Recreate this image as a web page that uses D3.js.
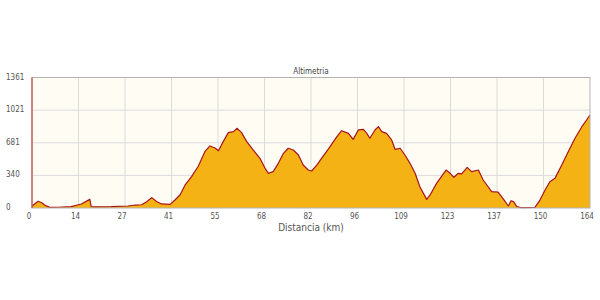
<!DOCTYPE html>
<html>
<head>
<meta charset="utf-8">
<script src="https://cdn.jsdelivr.net/npm/d3@7"></script>
<style>
  body { margin: 0; background: #fff; }
  text { font-family: "DejaVu Sans Condensed", "DejaVu Sans", sans-serif; fill: #555; }
</style>
</head>
<body>
<svg id="chart" width="600" height="300"></svg>
<script>
const width = 600;
const height = 300;

// profile: distance (km) and altitude (m)
const distance = [0, 1.8, 2.9, 3.7, 5.2, 7.6, 11.5, 14.5, 17.0, 17.4, 18.4, 23.3, 28.2, 30.3, 32.2, 33.7,
    35.2, 36.7, 38.1, 40.6, 42.0, 43.5, 45.0, 46.9, 48.9, 50.8, 52.3, 53.8, 54.8, 56.2, 57.7, 59.2,
    60.3, 61.6, 63.1, 65.0, 67.0, 68.5, 69.5, 70.9, 72.4, 73.9, 75.3, 76.8, 78.3, 79.7, 81.2, 82.2,
    83.7, 85.1, 87.6, 89.6, 91.0, 93.0, 94.4, 95.9, 97.4, 98.4, 99.3, 100.8, 101.8, 102.8, 104.2, 105.7,
    106.7, 108.2, 109.6, 111.1, 112.6, 114.0, 116.0, 117.0, 118.9, 121.7, 122.9, 124.0, 125.3, 126.3, 127.9, 129.2,
    131.2, 132.6, 135.1, 137.0, 138.5, 140.0, 140.8, 141.5, 142.5, 143.9, 147.8, 149.3, 150.8, 152.2, 153.7, 155.7,
    157.6, 159.6, 161.6, 163.0, 164.0];
const altitude = [20, 70, 55, 31, 7, 8, 14, 42, 90, 14, 12, 14, 21, 31, 34, 66,
    108, 66, 42, 38, 83, 136, 240, 327, 438, 587, 647, 626, 598, 692, 786, 797,
    831, 786, 692, 605, 518, 414, 362, 379, 466, 570, 623, 605, 553, 448, 396, 386,
    448, 518, 640, 744, 806, 778, 716, 814, 820, 778, 727, 814, 848, 797, 778, 710,
    612, 623, 553, 466, 362, 222, 90, 136, 257, 396, 362, 320, 362, 355, 424, 379,
    396, 292, 170, 165, 95, 21, 76, 66, 14, 3, 7, 83, 188, 274, 309, 448,
    587, 727, 848, 918, 970];

const xTickLabels = [0, 14, 27, 41, 55, 68, 82, 96, 109, 123, 137, 150, 164];
const yTickLabels = [0, 340, 681, 1021, 1361];
const title = "Altimetria";
const xTitle = "Distancia (km)";

const plotLeft = 32, plotRight = 590, plotTop = 77.5, plotBottom = 208;
const xMax = 164, yMax = 1361;

const x = d3.scaleLinear().domain([0, xMax]).range([plotLeft, plotRight]);
const y = d3.scaleLinear().domain([0, yMax]).range([plotBottom, plotTop]);

const svg = d3.select("#chart");
const profile = distance.map((d, i) => [d, altitude[i]]);

// plot background
svg.append("rect")
    .attr("x", plotLeft)
    .attr("y", plotTop)
    .attr("width", plotRight - plotLeft)
    .attr("height", plotBottom - plotTop)
    .attr("fill", "#fffcf4");

// grid, ticks sit on even fractions of the range
const xSteps = xTickLabels.length - 1;
const ySteps = yTickLabels.length - 1;

svg.append("g")
    .selectAll("line")
    .data(d3.range(1, xSteps))
    .enter()
    .append("line")
    .attr("x1", i => x(xMax * i / xSteps))
    .attr("x2", i => x(xMax * i / xSteps))
    .attr("y1", plotTop)
    .attr("y2", plotBottom)
    .attr("stroke", "#dcdcdc")
    .attr("stroke-width", 1);

svg.append("g")
    .selectAll("line")
    .data(d3.range(1, ySteps))
    .enter()
    .append("line")
    .attr("x1", plotLeft)
    .attr("x2", plotRight)
    .attr("y1", i => y(yMax * i / ySteps))
    .attr("y2", i => y(yMax * i / ySteps))
    .attr("stroke", "#dcdcdc")
    .attr("stroke-width", 1);

// elevation area + line
const area = d3.area()
    .x(d => x(d[0]))
    .y0(y(0))
    .y1(d => y(d[1]));

const line = d3.line()
    .x(d => x(d[0]))
    .y(d => y(d[1]));

svg.append("path")
    .datum(profile)
    .attr("d", area)
    .attr("fill", "#f4b214");

svg.append("path")
    .datum(profile)
    .attr("d", line)
    .attr("fill", "none")
    .attr("stroke", "#a8141c")
    .attr("stroke-width", 1.2)
    .attr("stroke-linejoin", "round");

// frame
svg.append("rect")
    .attr("x", plotLeft)
    .attr("y", plotTop)
    .attr("width", plotRight - plotLeft)
    .attr("height", plotBottom - plotTop)
    .attr("fill", "none")
    .attr("stroke", "#b4b4b4")
    .attr("stroke-width", 1);

// red marker on the left edge
svg.append("line")
    .attr("x1", plotLeft)
    .attr("x2", plotLeft)
    .attr("y1", plotTop)
    .attr("y2", plotBottom)
    .attr("stroke", "#c8282c")
    .attr("stroke-width", 1);

// tick labels
svg.append("g")
    .selectAll("text")
    .data(xTickLabels)
    .enter()
    .append("text")
    .attr("x", (d, i) => x(xMax * i / xSteps) - 3)
    .attr("y", 219)
    .attr("text-anchor", "middle")
    .style("font-size", "8px")
    .text(d => d);

svg.append("g")
    .selectAll("text")
    .data(yTickLabels)
    .enter()
    .append("text")
    .attr("x", 6)
    .attr("y", (d, i) => y(yMax * i / ySteps) + 2)
    .style("font-size", "8px")
    .text(d => d);

svg.append("text")
    .attr("x", (plotLeft + plotRight) / 2)
    .attr("y", 73.5)
    .attr("text-anchor", "middle")
    .style("font-size", "8px")
    .style("fill", "#444")
    .text(title);

svg.append("text")
    .attr("x", (plotLeft + plotRight) / 2)
    .attr("y", 231)
    .attr("text-anchor", "middle")
    .style("font-size", "10px")
    .text(xTitle);
</script>
</body>
</html>
